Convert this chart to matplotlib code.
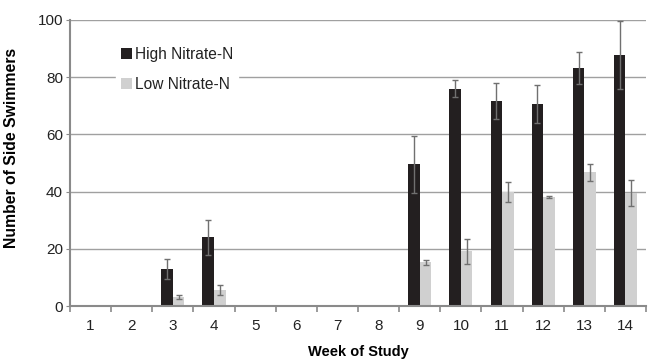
import matplotlib
matplotlib.use('Agg')
import matplotlib.pyplot as plt
import numpy as np

plt.rcParams['font.family'] = ['Liberation Sans', 'DejaVu Sans']

weeks = [1, 2, 3, 4, 5, 6, 7, 8, 9, 10, 11, 12, 13, 14]
high = [0, 0, 13, 24, 0, 0, 0, 0, 49.5, 76, 71.7, 70.6, 83.2, 87.6]
high_err = [0, 0, 3.5, 6.1, 0, 0, 0, 0, 10, 3, 6.4, 6.6, 5.5, 11.9]
low = [0, 0, 3.3, 5.5, 0, 0, 0, 0, 15.3, 19.1, 39.9, 38.1, 46.7, 39.4]
low_err = [0, 0, 0.7, 1.7, 0, 0, 0, 0, 0.8, 4.4, 3.5, 0.5, 3, 4.5]

fig = plt.figure(figsize=(6.48, 3.63), dpi=100)
ax = fig.add_axes([0.108, 0.157, 0.889, 0.788])

x = np.arange(len(weeks))
w = 0.28
# only draw the bars that have data (zero weeks show nothing)
hx = [i for i in x if high[i] > 0]
lx = [i for i in x if low[i] > 0]
ax.bar(x - w / 2, high, w, color='#231f20', label='High Nitrate-N', zorder=3)
ax.bar(x + w / 2, low, w, color='#d0d0d0', label='Low Nitrate-N', zorder=3)
ax.errorbar([i - w / 2 for i in hx], [high[i] for i in hx], yerr=[high_err[i] for i in hx],
            fmt='none', ecolor='#707070', elinewidth=1, capsize=2.5, capthick=1, zorder=4)
ax.errorbar([i + w / 2 for i in lx], [low[i] for i in lx], yerr=[low_err[i] for i in lx],
            fmt='none', ecolor='#707070', elinewidth=1, capsize=2.5, capthick=1, zorder=4)

ax.set_xlim(-0.5, len(weeks) - 0.5)
ax.set_ylim(0, 100)
ax.set_yticks([0, 20, 40, 60, 80, 100])
ax.set_xticks(x)
ax.set_xticklabels([str(wk) for wk in weeks])
ax.set_xticks(np.arange(-0.5, len(weeks), 1), minor=True)
ax.tick_params(axis='x', which='major', length=0, labelsize=11, colors='#222222', pad=9)
ax.tick_params(axis='x', which='minor', length=4, color='#8a8a8a', width=1.2)
ax.tick_params(axis='y', length=3, color='#8a8a8a', labelsize=11, labelcolor='#222222', pad=2)

ax.grid(axis='y', color='#a0a0a0', linewidth=1, zorder=0)
for s in ['top', 'right']:
    ax.spines[s].set_visible(False)
ax.spines['left'].set_color('#8a8a8a')
ax.spines['left'].set_linewidth(1.5)
ax.spines['bottom'].set_color('#8a8a8a')
ax.spines['bottom'].set_linewidth(1.5)
ax.spines['bottom'].set_zorder(5)

ax.set_ylabel('Number of Side Swimmers', fontsize=11.3, fontweight='bold')
ax.yaxis.set_label_coords(-0.088, 0.552)
ax.set_xlabel('Week of Study', fontsize=10.5, fontweight='bold', labelpad=9)

leg = ax.legend(loc='upper left', bbox_to_anchor=(0.067, 0.95), frameon=True, fontsize=11.2,
                handlelength=0.7, handleheight=0.7, handletextpad=0.2, labelspacing=1.0,
                borderpad=0.3, fancybox=False)
leg.get_frame().set_edgecolor('white')
leg.get_frame().set_facecolor('white')
leg.get_frame().set_alpha(1)
for t in leg.get_texts():
    t.set_color('#222222')

fig.savefig('out.png', dpi=100)
